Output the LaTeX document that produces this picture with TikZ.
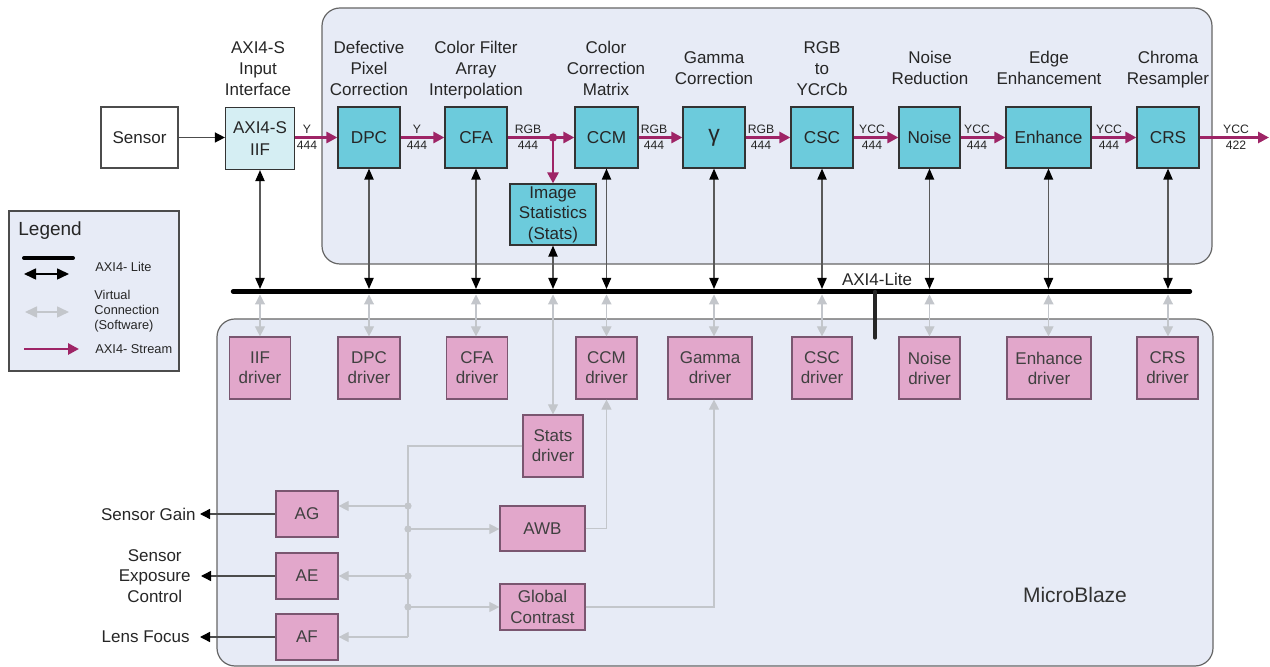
\documentclass[tikz,border=0pt]{standalone}
\usepackage{fontspec}
\setmainfont{Liberation Sans}
\usetikzlibrary{arrows.meta,calc}
\definecolor{cy}{HTML}{6CCBDC}
\definecolor{cyl}{HTML}{D5EEF3}
\definecolor{pk}{HTML}{E2A7CB}
\definecolor{pkb}{HTML}{7A5670}
\definecolor{rg}{HTML}{E7EBF6}
\definecolor{st}{HTML}{9E2466}
\definecolor{vg}{HTML}{C3C6CB}
\definecolor{tx}{HTML}{262626}
\begin{document}
\begin{tikzpicture}[x=0.5pt,y=-0.5pt,
  every node/.style={text=tx},
  region/.style={draw=black!60, fill=rg, line width=0.6pt, rounded corners=9pt},
  cbox/.style={draw=black!80, fill=cy, line width=0.6pt, inner sep=0pt, minimum height=30.5pt, minimum width=31pt, align=center, font=\fontsize{8.6}{10.5}\selectfont},
  pbox/.style={draw=pkb, fill=pk, line width=0.6pt, inner sep=0pt, minimum height=31pt, minimum width=30.5pt, align=center, font=\fontsize{8.5}{10}\selectfont, text=black!75},
  ttl/.style={align=center, inner sep=0pt, font=\fontsize{8.5}{10.5}\selectfont},
  slab/.style={align=center, inner sep=0pt, font=\fontsize{6.1}{8}\selectfont},
  lgt/.style={align=left, inner sep=0pt, font=\fontsize{6.4}{7.5}\selectfont},
  lite/.style={draw=black!65, line width=0.7pt, {Triangle[length=5.5pt,width=4.6pt,color=black]}-{Triangle[length=5.5pt,width=4.6pt,color=black]}},
  virt/.style={draw=vg, line width=0.55pt, {Triangle[length=5pt,width=5pt]}-{Triangle[length=5pt,width=5pt]}},
  vone/.style={draw=vg, line width=0.55pt, -{Triangle[length=5pt,width=5pt]}},
  vline/.style={draw=vg, line width=0.55pt},
  stream/.style={draw=st, line width=1.4pt, -{Triangle[length=5.5pt,width=5.5pt]}},
  outarr/.style={draw=black!70, line width=0.7pt, -{Triangle[length=5pt,width=5pt,color=black]}}
]
\useasboundingbox (0,0) rectangle (1270,667);

% regions
\draw[region] (322,8) rectangle (1212,264);
\draw[region] (217,319) rectangle (1213,666);

% legend
\draw[draw=black!70, fill=rg, line width=0.8pt] (9,211) rectangle (179,371);
\node[anchor=west, inner sep=0pt, font=\fontsize{9.5}{11}\selectfont] (legT) at (18,231) {Legend};
\coordinate (l1a) at (24,258); \coordinate (l1b) at (73,258);
\draw[line width=2pt, line cap=round] (l1a) -- (l1b);
\coordinate (l2a) at (24,274); \coordinate (l2b) at (69,274);
\draw[draw=black, line width=0.8pt, {Triangle[length=6pt,width=5.5pt]}-{Triangle[length=6pt,width=5.5pt]}] (l2a) -- (l2b);
\node[lgt, anchor=west] (lg1) at (95,267) {AXI4- Lite};
\coordinate (l3a) at (25,312); \coordinate (l3b) at (69,312);
\draw[draw=vg, line width=0.8pt, {Triangle[length=6pt,width=5.5pt]}-{Triangle[length=6pt,width=5.5pt]}] (l3a) -- (l3b);
\node[lgt, anchor=west] (lg2) at (94,311) {Virtual\\Connection\\(Software)};
\coordinate (l4a) at (24,349); \coordinate (l4b) at (79,349);
\draw[stream] (l4a) -- (l4b);
\node[lgt, anchor=west] (lg3) at (95,349) {AXI4- Stream};

% top boxes
\node[draw=black!70, fill=white, line width=0.6pt, minimum width=38.5pt, minimum height=30.5pt, inner sep=0pt, font=\fontsize{8.5}{10}\selectfont] (Sen) at (139.5,137.5) {Sensor};
\node[cbox, fill=cyl, minimum width=34.5pt, minimum height=31pt, font=\fontsize{8.5}{11}\selectfont] (IIF) at (260,138.5) {AXI4-S\\IIF};
\node[cbox] (DPC) at (369,137.5) {DPC};
\node[cbox] (CFA) at (476,137.5) {CFA};
\node[cbox, minimum width=31.5pt] (CCM) at (606.5,137.5) {CCM};
\node[cbox, font=\fontsize{11.5}{12}\selectfont] (gam) at (714,137.5) {γ};
\node[cbox] (CSC) at (822,137.5) {CSC};
\node[cbox, minimum width=30.5pt] (Noise) at (929.5,137.5) {Noise};
\node[cbox, minimum width=42.5pt] (Enh) at (1048.5,137.5) {Enhance};
\node[cbox] (CRS) at (1168,137.5) {CRS};
\node[cbox, minimum width=43pt, font=\fontsize{8.5}{10.25}\selectfont] (Stats) at (553,214.5) {Image\\Statistics\\(Stats)};

% titles
\node[ttl] (tIIF) at (258,70) {\strut AXI4-S\\\strut Input\\\strut Interface};
\node[ttl] (tDPC) at (369,70) {\strut Defective\\\strut Pixel\\\strut Correction};
\node[ttl] (tCFA) at (476,70) {\strut Color Filter\\\strut Array\\\strut Interpolation};
\node[ttl] (tCCM) at (606,70) {\strut Color\\\strut Correction\\\strut Matrix};
\node[ttl] (tgam) at (714,70) {\strut Gamma\\\strut Correction};
\node[ttl] (tCSC) at (822,70) {\strut RGB\\\strut to\\\strut YCrCb};
\node[ttl] (tNoi) at (930,70) {\strut Noise\\\strut Reduction};
\node[ttl] (tEnh) at (1049,70) {\strut Edge\\\strut Enhancement};
\node[ttl] (tCRS) at (1168,70) {\strut Chroma\\\strut Resampler};

% stream connections
\draw[outarr] (Sen) -- (Sen.east -| IIF.west);
\draw[stream] (IIF.east |- DPC.west) -- (DPC);
\draw[stream] (DPC) -- (CFA);
\coordinate (jn) at (Stats.north |- CFA.east);
\draw[stream] (CFA) -- (CCM);
\draw[stream] (jn) -- (Stats.north);
\fill[st] (jn) circle (2.1pt);
\draw[stream] (CCM) -- (gam);
\draw[stream] (gam) -- (CSC);
\draw[stream] (CSC) -- (Noise);
\draw[stream] (Noise) -- (Enh);
\draw[stream] (Enh) -- (CRS);
\coordinate (out) at (1269,137.5);
\draw[stream] (CRS) -- (out);

% stream labels
\node[slab] (s1) at (307,137) {Y\\444};
\node[slab] (s2) at (417,137) {Y\\444};
\node[slab] (s3) at (528,137) {RGB\\444};
\node[slab] (s4) at (654,137) {RGB\\444};
\node[slab] (s5) at (761,137) {RGB\\444};
\node[slab] (s6) at (872,137) {YCC\\444};
\node[slab] (s7) at (977,137) {YCC\\444};
\node[slab] (s8) at (1109,137) {YCC\\444};
\node[slab] (s9) at (1236,137) {YCC\\422};

% drivers
\node[pbox] (iifd) at (260,368) {IIF\\driver};
\node[pbox, minimum width=31pt] (dpcd) at (369,368) {DPC\\driver};
\node[pbox] (cfad) at (477,368) {CFA\\driver};
\node[pbox] (ccmd) at (606.5,368) {CCM\\driver};
\node[pbox, minimum width=42pt] (gamd) at (710,368) {Gamma\\driver};
\node[pbox, minimum width=30pt] (cscd) at (822,368) {CSC\\driver};
\node[pbox] (noised) at (929.5,368) {Noise\\driver};
\node[pbox, minimum width=42pt] (enhd) at (1049,368) {Enhance\\driver};
\node[pbox] (crsd) at (1167.5,368) {CRS\\driver};
\node[pbox, minimum width=30pt] (statsd) at (553,446) {Stats\\driver};
\node[pbox, minimum width=31pt, minimum height=23pt] (AG) at (307,514) {AG};
\node[pbox, minimum width=31pt, minimum height=23pt] (AE) at (307,576) {AE};
\node[pbox, minimum width=31pt, minimum height=23pt] (AF) at (307,637) {AF};
\node[pbox, minimum width=42.5pt, minimum height=22.5pt] (AWB) at (542.5,528.5) {AWB};
\node[pbox, minimum width=42.5pt, minimum height=23pt, font=\fontsize{8.5}{10.5}\selectfont] (GC) at (542.5,607) {Global\\Contrast};

% AXI4-Lite bus
\coordinate (busT) at (0,289);
\coordinate (busB) at (0,294.5);
\foreach \n in {IIF,DPC,CFA,Stats,CCM,gam,CSC,Noise,Enh,CRS}
  \draw[lite] (\n.south) -- (\n.south |- busT);
\foreach \a/\p in {IIF/iifd,DPC/dpcd,CFA/cfad,CCM/ccmd,gam/gamd,CSC/cscd,Noise/noised,Enh/enhd,CRS/crsd}
  \draw[virt] (\a.south |- busB) -- (\a.south |- \p.north);
\draw[virt] (Stats.south |- busB) -- (statsd.north);
\coordinate (busL) at (233,291.5);
\coordinate (busR) at (1190,291.5);
\draw[line width=2.2pt, line cap=round] (busL) -- (busR);
\coordinate (dropT) at (875,291.5);
\coordinate (dropB) at (875,338);
\draw[draw=black!85, line width=1.6pt, line cap=round] (dropT) -- (dropB);
\node[ttl] (axl) at (877,279) {AXI4-Lite};

% software network
\coordinate (spT) at (408,446);
\coordinate (spB) at (408,637);
\coordinate (d1) at (408,506);
\coordinate (d2) at (408,529);
\coordinate (d3) at (408,576);
\coordinate (d4) at (408,607);
\draw[vline] (statsd.west) -- (spT) -- (spB);
\draw[vone] (spB) -- (AF.east);
\draw[vone] (d1) -- (AG.east |- d1);
\draw[vone] (d2) -- (AWB.west |- d2);
\draw[vone] (d3) -- (AE.east);
\draw[vone] (d4) -- (GC.west);
\foreach \c in {d1,d2,d3,d4} \fill[vg] (\c) circle (1.8pt);
\draw[vone] (AWB.east) -| (ccmd.south);
\draw[vone] (GC.east) -| (gam.south |- gamd.south);

% outputs
\node[ttl, anchor=east, inner xsep=2pt] (sg) at (200,514) {Sensor Gain};
\node[ttl, anchor=east, inner xsep=5pt, font=\fontsize{8.5}{10.25}\selectfont] (sec) at (201,576) {Sensor\\Exposure\\Control};
\node[ttl, anchor=east, inner xsep=5pt] (lf) at (200,637) {Lens Focus};
\draw[outarr] (AG.west) -- (sg.east);
\draw[outarr] (AE.west) -- (sec.east);
\draw[outarr] (AF.west) -- (lf.east);

\node[inner sep=0pt, font=\fontsize{10.5}{12}\selectfont, text=black!80] (mb) at (1075,595) {MicroBlaze};
\end{tikzpicture}
\end{document}
